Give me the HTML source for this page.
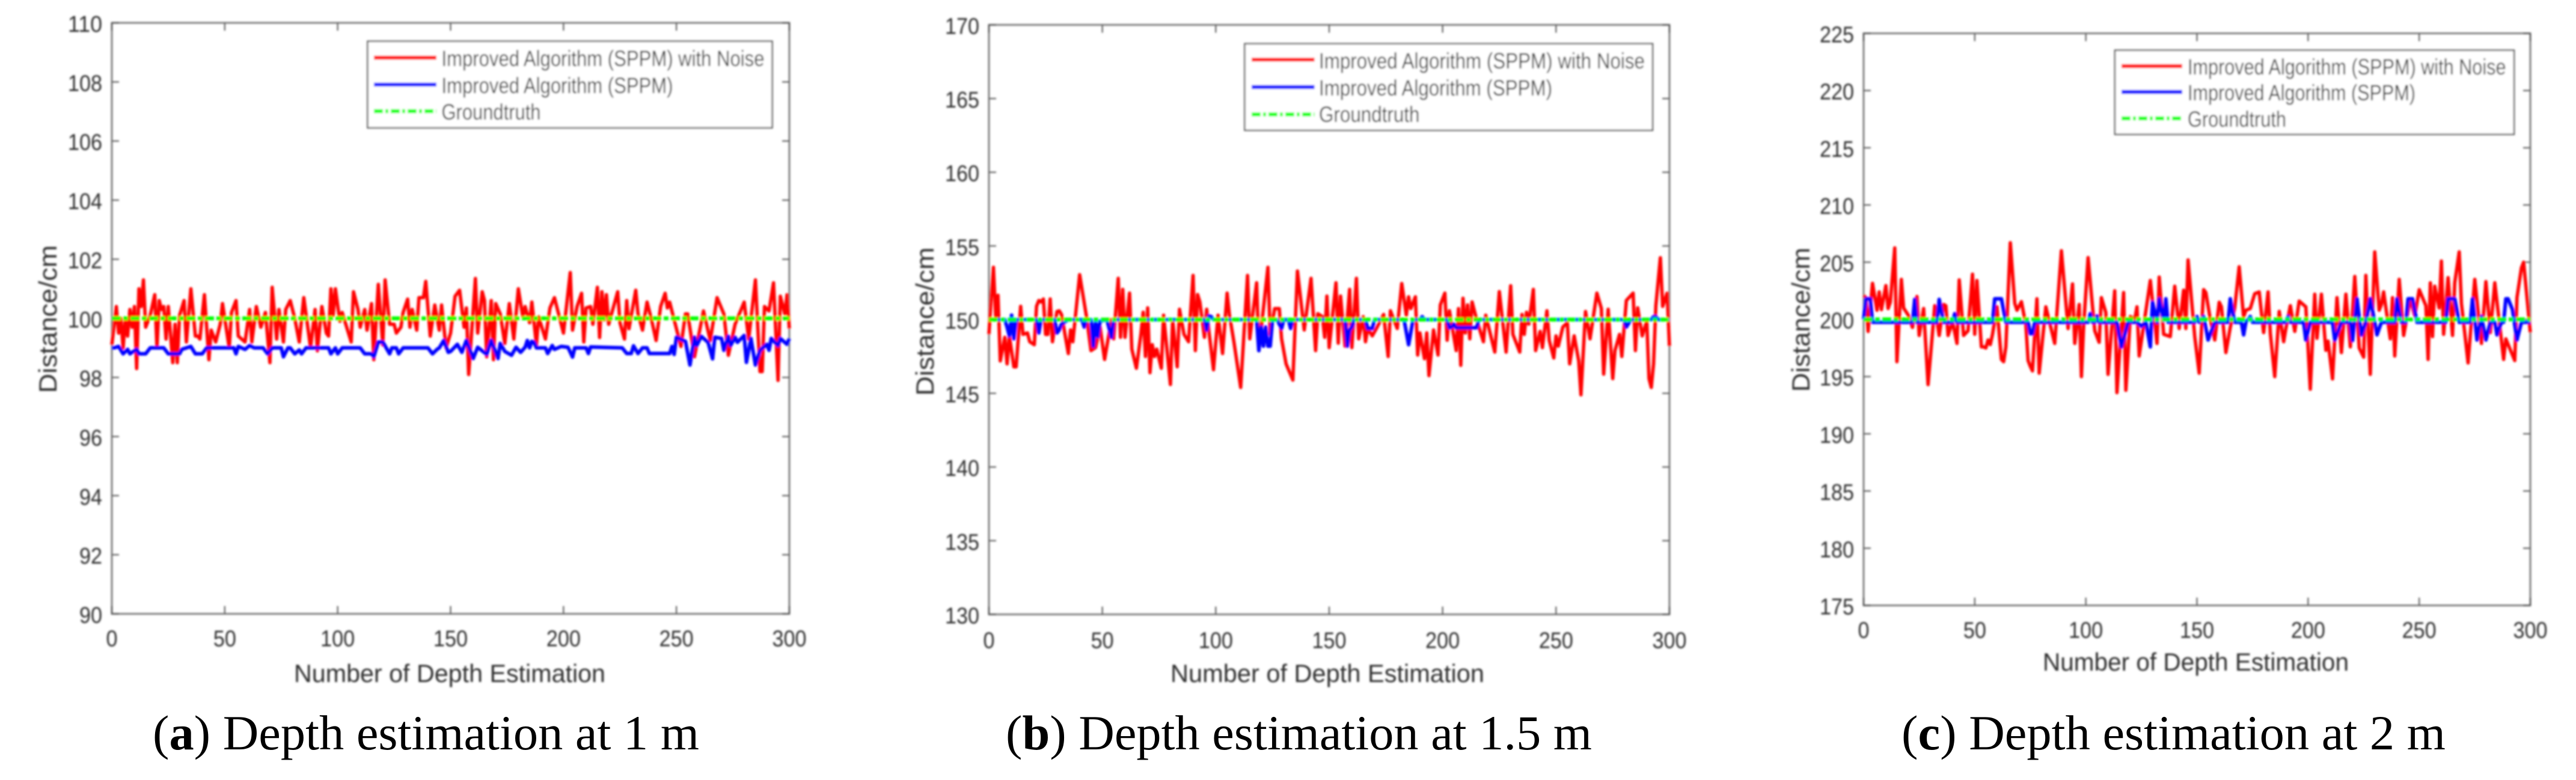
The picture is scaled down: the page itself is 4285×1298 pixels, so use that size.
<!DOCTYPE html>
<html lang="en">
<head>
<meta charset="utf-8">
<title>Depth estimation at 1 m, 1.5 m and 2 m</title>
<style>
html,body{margin:0;padding:0;background:#fff;}
svg{display:block;}
.soft text{font-family:"Liberation Sans",Arial,sans-serif;fill:#2e2e2e;}
.cap{font-family:"Liberation Serif","Times New Roman",serif;font-size:82px;fill:#000;}
.tl{font-size:38px;}
.at{font-size:42px;}
.lg{font-size:37px;fill:#262626;}
</style>
</head>
<body>
<svg id="fig" xmlns="http://www.w3.org/2000/svg" width="4285" height="1298" viewBox="0 0 4285 1298">
<defs>
<filter id="soft" filterUnits="userSpaceOnUse" x="0" y="0" width="4285" height="1298"><feGaussianBlur stdDeviation="1.5"/></filter>
</defs>
<rect x="0" y="0" width="4285" height="1298" fill="#fff"/>

<g id="panel-a" class="soft" filter="url(#soft)">
<text class="at" x="748" y="1135" text-anchor="middle" textLength="518" lengthAdjust="spacingAndGlyphs">Number of Depth Estimation</text>
<text class="at" transform="translate(94 531) rotate(-90)" text-anchor="middle" textLength="246" lengthAdjust="spacingAndGlyphs">Distance/cm</text>
<g>
<rect x="611.5" y="68.7" width="673" height="144" fill="#fff" stroke="#5c5c5c" stroke-width="2.5"/>
<line x1="622" x2="726" y1="96" y2="96" stroke="#ff0000" stroke-width="6.5"/>
<line x1="622" x2="726" y1="140.7" y2="140.7" stroke="#0000ff" stroke-width="6.5"/>
<line x1="622" x2="726" y1="185" y2="185" stroke="#00ff00" stroke-width="6.5" stroke-dasharray="15 4 5 4"/>
<text class="lg" x="734.5" y="110" textLength="537" lengthAdjust="spacingAndGlyphs">Improved Algorithm (SPPM) with Noise</text>
<text class="lg" x="734.5" y="155" textLength="385" lengthAdjust="spacingAndGlyphs">Improved Algorithm (SPPM)</text>
<text class="lg" x="734.5" y="199" textLength="165" lengthAdjust="spacingAndGlyphs">Groundtruth</text>
</g>
</g>

<g id="panel-b" class="soft" filter="url(#soft)">
<text class="at" x="2208" y="1135" text-anchor="middle" textLength="522" lengthAdjust="spacingAndGlyphs">Number of Depth Estimation</text>
<text class="at" transform="translate(1553 535) rotate(-90)" text-anchor="middle" textLength="247" lengthAdjust="spacingAndGlyphs">Distance/cm</text>
<g>
<rect x="2070.5" y="72.8" width="678.5" height="144" fill="#fff" stroke="#5c5c5c" stroke-width="2.5"/>
<line x1="2082" x2="2186.6" y1="99.3" y2="99.3" stroke="#ff0000" stroke-width="6.5"/>
<line x1="2082" x2="2186.6" y1="144.9" y2="144.9" stroke="#0000ff" stroke-width="6.5"/>
<line x1="2082" x2="2186.6" y1="190.4" y2="190.4" stroke="#00ff00" stroke-width="6.5" stroke-dasharray="15 4 5 4"/>
<text class="lg" x="2194" y="114" textLength="542" lengthAdjust="spacingAndGlyphs">Improved Algorithm (SPPM) with Noise</text>
<text class="lg" x="2194" y="159" textLength="388" lengthAdjust="spacingAndGlyphs">Improved Algorithm (SPPM)</text>
<text class="lg" x="2194" y="203" textLength="167.5" lengthAdjust="spacingAndGlyphs">Groundtruth</text>
</g>
</g>

<g id="panel-c" class="soft" filter="url(#soft)">
<text class="at" x="3652.5" y="1116" text-anchor="middle" textLength="509" lengthAdjust="spacingAndGlyphs">Number of Depth Estimation</text>
<text class="at" transform="translate(3010 532) rotate(-90)" text-anchor="middle" textLength="240" lengthAdjust="spacingAndGlyphs">Distance/cm</text>
<g>
<rect x="3518" y="83.6" width="664" height="140" fill="#fff" stroke="#5c5c5c" stroke-width="2.5"/>
<line x1="3529" x2="3630" y1="110" y2="110" stroke="#ff0000" stroke-width="6.5"/>
<line x1="3529" x2="3630" y1="153" y2="153" stroke="#0000ff" stroke-width="6.5"/>
<line x1="3529" x2="3630" y1="197" y2="197" stroke="#00ff00" stroke-width="6.5" stroke-dasharray="15 4 5 4"/>
<text class="lg" x="3639" y="124" textLength="529.5" lengthAdjust="spacingAndGlyphs">Improved Algorithm (SPPM) with Noise</text>
<text class="lg" x="3639" y="167" textLength="379" lengthAdjust="spacingAndGlyphs">Improved Algorithm (SPPM)</text>
<text class="lg" x="3639" y="211" textLength="164" lengthAdjust="spacingAndGlyphs">Groundtruth</text>
</g>
</g>

<text class="cap" x="254" y="1247" textLength="909" lengthAdjust="spacingAndGlyphs">(<tspan font-weight="bold">a</tspan>) Depth estimation at 1 m</text>
<text class="cap" x="1673" y="1247" textLength="975" lengthAdjust="spacingAndGlyphs">(<tspan font-weight="bold">b</tspan>) Depth estimation at 1.5 m</text>
<text class="cap" x="3163" y="1247" textLength="905" lengthAdjust="spacingAndGlyphs">(<tspan font-weight="bold">c</tspan>) Depth estimation at 2 m</text>
</svg>

<script>
const xTickValues = [0,50,100,150,200,250,300];
const yTicksA = [90,92,94,96,98,100,102,104,106,108,110];
const yTicksB = [130,135,140,145,150,155,160,165,170];
const yTicksC = [175,180,185,190,195,200,205,210,215,220,225];
const groundtruthA = 100;
const groundtruthB = 150;
const groundtruthC = 200;

const redSamplesA = [0,2,3,4,5,6,7,8,9,10,
11,12,13,14,15,17,19,20,21,22,
23,24,25,27,28,29,30,32,33,35,
37,38,39,41,43,44,46,48,49,52,
53,55,56,59,61,62,64,66,68,70,
71,73,74,76,77,79,81,83,85,88,
90,91,93,95,96,97,98,99,101,102,
104,106,107,109,110,112,113,115,116,118,
120,121,123,125,126,128,129,131,132,133,
135,136,138,139,141,143,145,146,148,150,
152,154,156,157,158,161,162,164,165,166,
168,169,170,172,174,176,178,180,182,183,
185,186,188,189,192,194,196,200,203,204,
206,208,209,210,212,213,215,216,217,218,
219,220,224,225,227,228,229,232,233,235,
237,239,241,243,245,246,247,250,252,254,
255,258,262,265,268,271,273,276,280,282,
285,287,288,289,291,293,295,296,298,299,300];
const redValuesA = [99.1,100.4,99.5,100.0,99.0,100.0,99.4,100.3,99.7,100.4,
98.3,101.0,100.4,101.3,99.7,100.1,100.8,99.0,100.6,100.3,
100.4,99.3,100.4,98.5,99.8,98.5,100.1,100.6,99.2,101.0,
99.4,99.4,99.3,100.8,98.6,99.6,99.2,99.8,100.5,99.0,
100.2,100.6,99.4,99.2,100.3,99.2,100.4,99.7,100.2,98.5,
101.05,99.3,100.3,99.2,100.3,100.6,100.0,99.2,100.7,99.0,
100.3,98.9,100.4,99.5,99.4,101.0,100.1,101.0,99.9,100.2,
99.7,99.2,100.9,100.3,99.7,100.3,99.6,100.5,98.6,101.15,
99.1,101.3,99.8,99.8,99.5,99.7,100.2,100.65,99.7,100.3,
99.6,100.7,100.7,101.25,99.4,100.45,99.6,100.45,99.0,99.5,
100.75,100.95,99.7,100.35,98.1,101.35,99.5,100.9,100.6,98.7,
100.6,98.6,100.5,100.15,99.15,100.5,99.3,101.0,100.05,100.4,
99.85,100.55,99.1,100.05,99.3,100.35,100.7,99.5,101.55,99.6,
100.4,100.85,99.2,100.35,100.4,99.8,101.05,99.35,100.9,99.95,
100.8,99.8,100.9,99.85,99.3,100.6,99.65,100.95,100.15,99.6,
100.55,99.95,99.25,100.4,100.85,100.35,100.55,99.65,99.05,100.15,
100.15,98.7,100.25,99.25,100.7,100.15,98.75,99.8,100.55,99.3,
101.3,98.2,98.2,100.4,100.25,101.2,97.9,100.75,100.15,100.8,99.65];
const blueSamplesA = [0,1,3,5,7,8,11,12,15,17,
23,25,30,31,35,37,40,42,54,55,
56,59,61,63,67,69,71,75,76,78,
79,81,83,84,86,96,97,99,100,102,
110,112,115,116,118,120,123,124,126,127,
129,140,142,144,145,147,149,150,153,155,
157,160,162,166,168,171,172,174,177,179,
181,183,184,185,186,187,188,192,193,195,
196,199,202,204,205,210,211,212,226,228,
230,231,233,235,237,238,247,248,249,250,
254,256,258,259,261,264,266,267,270,271,
273,274,276,277,280,281,283,285,287,290,
291,292,295,296,299,300];
const blueValuesA = [99,99,99.05,98.8,98.95,98.8,98.95,98.8,98.8,99,
99,98.8,98.8,98.95,99.05,98.8,98.8,99,99,98.8,
99.05,98.95,99.08,99,99,98.8,99,99,98.7,99,
99,98.8,98.93,98.8,99,99,98.8,99,98.8,99,
99,98.8,98.8,98.7,99.2,99.2,98.8,99,99,98.8,
99,99,98.8,98.95,99,99.25,98.85,98.88,99.12,98.85,
99.25,98.64,99.02,98.78,99.25,98.64,99.15,98.88,98.75,99.02,
98.85,99.02,99.25,99,99.22,99.19,99,99,98.81,99.08,
98.95,99.05,99.02,98.69,99,99,98.81,99.03,99,98.81,
98.81,99.07,98.81,99,99,98.81,98.81,99.05,98.78,99.36,
99.22,98.42,99.36,99.08,99.39,99.19,98.63,99.36,99.32,98.92,
99.39,99.08,99.36,99.19,99.42,98.51,99.32,98.42,98.92,99.12,
98.92,99.32,99.08,99.32,99.12,99.32];

const redSamplesB = [0,1,2,3,4,5,7,8,9,11,
12,14,15,17,18,20,21,22,23,24,
25,26,27,28,30,31,32,35,36,37,
40,43,45,47,49,51,54,55,57,58,
59,60,62,63,65,67,68,69,70,71,
72,73,74,76,77,80,81,83,84,86,
88,90,91,92,93,95,96,97,99,101,
103,105,106,108,111,114,115,118,119,123,
124,126,128,129,131,134,136,139,142,144,
145,147,148,149,150,153,154,155,157,159,
160,162,163,165,166,167,169,171,174,176,
177,180,182,184,185,186,188,189,190,192,
193,194,196,198,199,201,202,203,206,207,
208,209,210,211,212,213,215,218,219,223,
225,228,230,231,234,235,236,237,238,240,
241,243,244,246,247,249,250,251,253,255,
256,258,260,261,263,265,268,270,271,273,
275,276,278,279,281,284,285,286,288,290,
291,292,293,294,296,297,299,300];
const redValuesB = [149,151.5,153.55,150.2,151.65,147.2,148.8,147,148.9,146.8,
146.8,150.9,149,149.1,148.5,148.3,150.9,151.3,151.2,151.4,
149,149,151.4,148.5,150.55,150.6,150.35,147.7,149.3,148.5,
153.05,150.2,147.9,148.1,149.5,147.3,150,148.7,152.8,148.8,
152.05,148.8,151.8,148,146.7,149,150.5,147.5,150.8,146.4,
148.3,147.5,148,146.7,150.3,145.6,150,146.8,150.7,149,
148.5,153,147.9,151.7,151.2,148.8,150.7,149.2,146.6,150.3,
147.7,151.8,150.35,148.5,145.4,153,148.7,152.5,147.9,153.55,
149,150.75,150.75,148.7,147,145.9,153.3,149.3,152.8,147.9,
150.4,150.2,148.8,151.6,148.1,152.5,148.4,151.6,148.2,152.05,
148.1,152.8,148.7,150.2,148.5,149.4,148.9,149.45,150.35,147.5,
150.6,149.4,152.45,150.3,151.55,150.75,151.55,147.6,149.1,147.35,
149.1,146.2,149.3,147.6,151,151.8,148.6,150.6,147.9,150.75,
146.9,151.45,149.1,151,148.7,151.2,150,148.5,150.3,147.8,
151.9,147.8,152.3,149,147.8,150.35,149,150.5,149.7,152.05,
147.9,149.2,148.1,150.6,148.6,147.4,148.9,148.2,149.5,149.8,
147,148.9,147.2,144.9,150.55,148.7,151.8,150.75,146.3,150.7,
146,147.9,149,147.5,151.3,151.8,147.9,150.8,148.9,149.9,
146,145.4,147,150.95,154.2,150.9,151.8,148.2];
const blueSamplesB = [0,7,8,9,10,11,12,21,22,23,
29,30,31,32,34,35,41,42,43,45,
46,47,48,49,52,54,55,95,96,97,
98,99,118,119,120,121,122,123,124,125,
127,129,130,132,133,134,157,158,159,160,
161,166,167,169,170,183,185,187,190,191,
192,202,203,204,205,206,210,214,215,216,
280,281,283,292,293,294,295,300];
const blueValuesB = [150,150,149.5,148.9,150.3,148.7,150,150,149.1,150,
150,149.1,149.3,149.7,149.9,150,150,149.5,150,150,
148.2,149.9,148.85,149.9,150,148.8,150,150,149.3,150.25,
150.2,150,150,147.9,149.5,148.2,149.5,148.2,148.2,150,
150,149.4,150,150,149.4,150,150,148.2,149.3,149.5,
150,150,149.4,149.4,150,150,148.3,150,150,150.2,
150,150,149.45,149.5,149.7,149.45,149.45,149.45,149.45,150,
150,149.5,150,150,150.2,150.2,150,150];

const redSamplesC = [0,1,2,4,6,7,8,10,11,12,
14,15,17,18,20,22,24,25,27,29,
31,32,34,36,37,38,40,42,43,45,
47,49,50,51,53,54,55,56,57,58,
60,62,63,64,66,68,69,71,73,74,
75,76,78,79,82,86,89,92,94,95,
97,98,99,101,103,104,106,107,109,110,
113,114,117,118,120,122,123,124,129,132,
133,135,138,140,142,144,145,146,149,151,
153,154,156,158,160,161,163,165,167,169,
171,172,174,176,178,180,182,183,185,187,
189,190,192,194,196,199,201,203,204,206,
208,209,211,213,215,217,219,221,223,225,
226,228,230,232,233,234,237,238,239,241,
243,246,248,250,253,254,255,256,257,259,
260,261,263,265,266,268,269,272,275,278,
280,282,284,288,289,293,294,296,297,300];
const redValuesC = [202.1,201.9,198.95,203.15,200.8,202.4,200.85,202.95,200.95,201.5,
206.25,196.3,203.5,201,200.4,199.3,202,198.6,200.95,194.3,
198.85,201.2,198.6,201.3,201.2,198.6,199.8,197.9,203.45,198.6,
199,203.95,198.7,203.4,197.6,197.6,197.5,198.2,197.8,198.7,
201.1,196.5,196.3,197.6,206.7,201.4,200.8,201.55,199.5,196.4,
195.9,195.5,201.8,195.3,201.1,197.9,206,199.2,203.1,197.9,
201.3,195,199.4,205.4,201.1,199,198,201.9,200.6,195.2,
202.5,193.6,202.35,193.8,200.25,200,201.1,196.8,203.4,197.9,
203.7,198.7,198.5,202.9,199.2,202.55,199.2,205.2,198.5,195.3,
202.6,202.35,200,198.2,201.5,201.1,197.1,199.3,201,204.6,
200.2,200.8,200.95,202.25,202.4,198.85,202.4,198.8,195,200.7,
198.05,199.2,201.2,198.95,201.6,201.1,193.9,202.2,198.35,202.2,
197.3,198.1,194.8,201.9,197.1,202.2,197.6,203.75,197.5,196.7,
203.85,195.2,205.9,200.8,201.3,202.4,198.3,201.9,196.8,203.5,
198.6,201.8,200.3,202.6,201.2,196.5,203.2,198.5,202.9,201,
205.1,198.7,203.65,198.6,203.2,205.9,201.4,196.2,203.5,197.9,
203.3,198.85,203.2,196.5,198.3,196.4,201.9,204.5,205,198.85];
const blueSamplesC = [0,1,3,4,22,23,24,33,34,36,
40,41,42,58,59,62,64,74,75,76,
77,101,102,103,104,105,106,114,116,119,
123,125,127,129,130,132,133,135,136,137,
149,150,151,153,155,158,164,165,167,170,
171,172,174,175,190,191,192,198,199,201,
211,212,215,219,220,222,224,226,228,230,
231,233,239,240,242,244,245,247,249,262,
263,266,268,273,274,276,278,280,282,284,
285,287,288,289,290,292,294,296,300];
const blueValuesC = [200,201.8,201.8,199.75,199.75,201.75,199.75,199.75,201.75,199.75,
199.75,200.5,199.75,199.75,201.8,201.8,199.75,199.75,198.75,198.75,
199.75,199.75,200.5,199.75,199.75,200.3,199.75,199.75,197.6,199.75,
199.75,199.4,199.75,197.6,201.5,199.75,201.8,199.9,201.8,199.75,
199.75,200.25,199.75,200.25,198.2,199.75,199.75,201.8,199.75,199.75,
198.65,199.75,200.25,199.75,199.75,200.25,199.75,199.75,198.2,199.75,
199.75,198.2,199.75,199.75,198.15,201.8,198.65,199.75,201.8,199.75,
198.65,199.75,199.75,201.8,199.75,199.75,201.8,201.8,199.75,199.75,
201.8,201.8,199.75,199.75,201.8,198.2,200.25,198.2,199.75,199.75,
198.65,199.75,199.75,201.8,201.8,200.85,198.2,199.75,199.75];

const NS = 'http://www.w3.org/2000/svg';

function makeXAxis(box){
  return function(v){ return box.left + v / 300 * (box.right - box.left); };
}
function makeYAxis(box, ticks){
  const lo = ticks[0], hi = ticks[ticks.length - 1];
  return function(v){ return box.bottom - (v - lo) / (hi - lo) * (box.bottom - box.top); };
}
function tickLine(parent, x1, y1, x2, y2, suffix){
  const t = document.createElementNS(NS, 'line');
  
  
  t.setAttribute('x1', x1); t.setAttribute('y1', y1);
  t.setAttribute('x2', x2); t.setAttribute('y2', y2);
  t.setAttribute('stroke', '#4d4d4d');
  t.setAttribute('stroke-width', '2');
  parent.appendChild(t);
}
function tickLabel(parent, x, y, anchor, str, suffix){
  const t = document.createElementNS(NS, 'text');
  
  
  t.setAttribute('class', 'tl');
  t.setAttribute('x', x); t.setAttribute('y', y);
  t.setAttribute('text-anchor', anchor);
  t.setAttribute('textLength', String(str).length * 19);
  t.setAttribute('lengthAdjust', 'spacingAndGlyphs');
  t.textContent = str;
  parent.appendChild(t);
}
function seriesPath(parent, xs, ys, sx, sy, color, width, name){
  const p = document.createElementNS(NS, 'path');
  
  
  const n = Math.min(xs.length, ys.length);
  let d = '';
  for(let i = 0; i < n; i++){
    d += (i ? 'L' : 'M') + sx(xs[i]).toFixed(1) + ' ' + sy(ys[i]).toFixed(1);
  }
  p.setAttribute('d', d);
  p.setAttribute('fill', 'none');
  p.setAttribute('stroke', color);
  p.setAttribute('stroke-width', width);
  p.setAttribute('stroke-linejoin', 'round');
  parent.appendChild(p);
}
function drawPanel(id, suffix, box, yTicks, redX, redY, blueX, blueY, truth, xOff){
  const root = document.getElementById(id);
  const legend = root.querySelector('g');
  const g = document.createElementNS(NS, 'g');
  
  
  root.insertBefore(g, legend);
  const sx = makeXAxis(box);
  const sy = makeYAxis(box, yTicks);

  const frame = document.createElementNS(NS, 'rect');
  
  
  frame.setAttribute('x', box.left);
  frame.setAttribute('y', box.top);
  frame.setAttribute('width', box.right - box.left);
  frame.setAttribute('height', box.bottom - box.top);
  frame.setAttribute('fill', 'none');
  frame.setAttribute('stroke', '#7d7d7d');
  frame.setAttribute('stroke-width', '3');
  g.appendChild(frame);

  xTickValues.forEach(function(v){
    const x = sx(v);
    tickLine(g, x, box.bottom, x, box.bottom - 13, 'x-bottom-' + v);
    tickLine(g, x, box.top, x, box.top + 13, 'x-top-' + v);
    tickLabel(g, x, box.bottom + xOff, 'middle', v, 'x-' + v);
  });
  yTicks.forEach(function(v){
    const y = sy(v);
    tickLine(g, box.left, y, box.left + 12, y, 'y-left-' + v);
    tickLine(g, box.right, y, box.right - 12, y, 'y-right-' + v);
    tickLabel(g, box.left - 16, y + 15, 'end', v, 'y-' + v);
  });

  seriesPath(g, redX, redY, sx, sy, '#ff0000', 5.6, 'series-noise-' + suffix);
  seriesPath(g, blueX, blueY, sx, sy, '#0000ff', 6, 'series-sppm-' + suffix);

  const gt = document.createElementNS(NS, 'line');
  
  
  gt.setAttribute('x1', sx(0));
  gt.setAttribute('x2', sx(300));
  gt.setAttribute('y1', sy(truth));
  gt.setAttribute('y2', sy(truth));
  gt.setAttribute('stroke', '#00ff00');
  gt.setAttribute('stroke-width', '6.5');
  gt.setAttribute('stroke-dasharray', '15 4 8 4');
  g.appendChild(gt);
}

drawPanel('panel-a', 'a', {left:186, right:1313, top:38, bottom:1021.5}, yTicksA, redSamplesA, redValuesA, blueSamplesA, blueValuesA, groundtruthA, 54);
drawPanel('panel-b', 'b', {left:1645, right:2777, top:41.4, bottom:1022.4}, yTicksB, redSamplesB, redValuesB, blueSamplesB, blueValuesB, groundtruthB, 56);
drawPanel('panel-c', 'c', {left:3100, right:4209, top:55.5, bottom:1007.5}, yTicksC, redSamplesC, redValuesC, blueSamplesC, blueValuesC, groundtruthC, 54);
</script>
</body>
</html>
